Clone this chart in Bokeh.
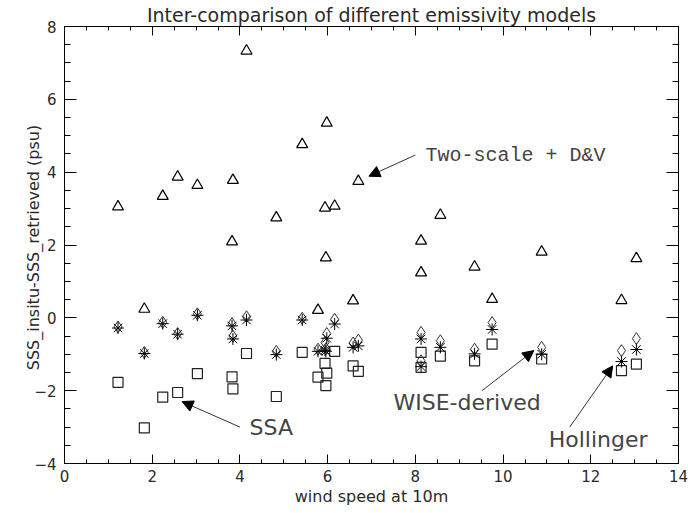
from bokeh.plotting import figure
from bokeh.models import (Range1d, SingleIntervalTicker, LinearAxis, Label, Arrow, NormalHead,
                          ColumnDataSource, CustomJSTickFormatter)
from bokeh.embed import file_html
from bokeh.resources import INLINE

# ---- data ----
wind = [1.22, 1.82, 2.24, 2.58, 3.03, 3.82, 3.84, 4.15, 4.83, 5.42, 5.78, 5.94, 5.96,
        5.98, 6.16, 6.58, 6.70, 8.13, 8.13, 8.57, 9.35, 9.75, 10.88, 12.70, 13.04]
two_scale = [3.05, 0.24, 3.34, 3.87, 3.64, 2.09, 3.78, 7.33, 2.75, 4.76, 0.21, 3.02, 1.65,
             5.35, 3.07, 0.47, 3.75, 2.11, 1.24, 2.82, 1.40, 0.51, 1.81, 0.48, 1.63]
ssa = [-1.77, -3.02, -2.18, -2.05, -1.53, -1.62, -1.95, -0.98, -2.16, -0.95, -1.63, -1.25, -1.86,
       -1.52, -0.92, -1.32, -1.47, -0.95, -1.36, -1.05, -1.18, -0.72, -1.13, -1.45, -1.27]
wise = [-0.25, -0.95, -0.12, -0.43, 0.11, -0.16, -0.50, 0.03, -0.92, -0.01, -0.86, -0.68, -0.85,
        -0.43, -0.04, -0.69, -0.61, -0.40, -1.18, -0.63, -0.86, -0.13, -0.81, -0.90, -0.57]
hollinger = [-0.28, -0.98, -0.16, -0.45, 0.07, -0.22, -0.58, -0.06, -1.01, -0.06, -0.92, -0.89, -0.92,
             -0.56, -0.17, -0.81, -0.77, -0.58, -1.34, -0.81, -0.99, -0.32, -1.00, -1.20, -0.87]

title = "Inter-comparison of different emissivity models"
x_label = "wind speed at 10m"
y_label = "SSS_insitu-SSS_retrieved  (psu)"

src = ColumnDataSource(dict(x=wind, ts=two_scale, ssa=ssa, wise=wise, hol=hollinger))

FONT = "DejaVu Sans"
TXT = "#2a2a2a"

p = figure(width=688, height=513, x_range=Range1d(0, 14), y_range=Range1d(-4, 8),
           output_backend="svg", toolbar_location=None,
           min_border_left=64, min_border_right=10, min_border_bottom=50, min_border_top=25)
p.title.text = title
p.title.align = "center"
p.title.text_font = FONT
p.title.text_font_size = "19px"
p.title.text_font_style = "normal"
p.title.text_color = TXT
p.title.standoff = 2

p.grid.visible = False
p.outline_line_color = "black"
p.background_fill_color = "white"
p.border_fill_color = "white"

def style_axis(ax, major, minor, labels=True):
    ax.ticker = SingleIntervalTicker(interval=2, num_minor_ticks=4)
    ax.major_tick_in = major
    ax.major_tick_out = 0
    ax.minor_tick_in = minor
    ax.minor_tick_out = 0
    ax.axis_line_color = "black"
    ax.major_tick_line_color = "black"
    ax.minor_tick_line_color = "black"
    if labels:
        ax.major_label_text_font = FONT
        ax.major_label_text_font_size = "15px"
        ax.major_label_text_color = TXT
        ax.axis_label_text_font = FONT
        ax.axis_label_text_font_size = "16px"
        ax.axis_label_text_font_style = "normal"
        ax.axis_label_text_color = TXT
    else:
        ax.formatter = CustomJSTickFormatter(code="return ''")
        ax.major_label_standoff = 0

style_axis(p.xaxis[0], 9, 4)
style_axis(p.yaxis[0], 12, 6)
p.xaxis[0].axis_label = x_label
p.yaxis[0].axis_label = y_label
p.xaxis[0].major_label_standoff = 6
p.yaxis[0].major_label_standoff = 8
p.xaxis[0].axis_label_standoff = 2
p.yaxis[0].axis_label_standoff = -12

top_ax = LinearAxis()
style_axis(top_ax, 9, 4, labels=False)
p.add_layout(top_ax, "above")
right_ax = LinearAxis()
style_axis(right_ax, 12, 6, labels=False)
p.add_layout(right_ax, "right")

# ---- markers ----
p.scatter("x", "ts", source=src, marker="triangle", size=11, fill_color=None,
          line_color="black", line_width=1.2)
p.scatter("x", "ssa", source=src, marker="square", size=10, fill_color=None,
          line_color="#222", line_width=1.2)
p.scatter("x", "wise", source=src, marker="diamond", size=12, fill_color=None,
          line_color="#333", line_width=1.0)
p.scatter("x", "hol", source=src, marker="asterisk", size=12, fill_color=None,
          line_color="black", line_width=1.0)

# ---- annotations ----
def arrow(xs, ys, xe, ye):
    p.add_layout(Arrow(end=NormalHead(size=11, fill_color="black", line_color="black"),
                       x_start=xs, y_start=ys, x_end=xe, y_end=ye,
                       line_color="#333", line_width=1))

p.add_layout(Label(x=8.23, y=4.45, text="Two-scale + D&V", text_font="Liberation Mono",
                   text_font_size="20px", text_color="#444", text_baseline="middle"))
arrow(8.0, 4.47, 6.94, 3.89)

p.add_layout(Label(x=4.22, y=-3.01, text="SSA", text_font=FONT,
                   text_font_size="22px", text_color="#444", text_baseline="middle"))
arrow(4.0, -3.0, 2.68, -2.3)

p.add_layout(Label(x=7.5, y=-2.32, text="WISE-derived", text_font=FONT,
                   text_font_size="22px", text_color="#444", text_baseline="middle"))
arrow(9.52, -2.0, 10.7, -0.9)

p.add_layout(Label(x=11.04, y=-3.34, text="Hollinger", text_font=FONT,
                   text_font_size="22px", text_color="#444", text_baseline="middle"))
arrow(11.52, -3.0, 12.5, -1.32)

open("out.html", "w").write(file_html(p, INLINE))
